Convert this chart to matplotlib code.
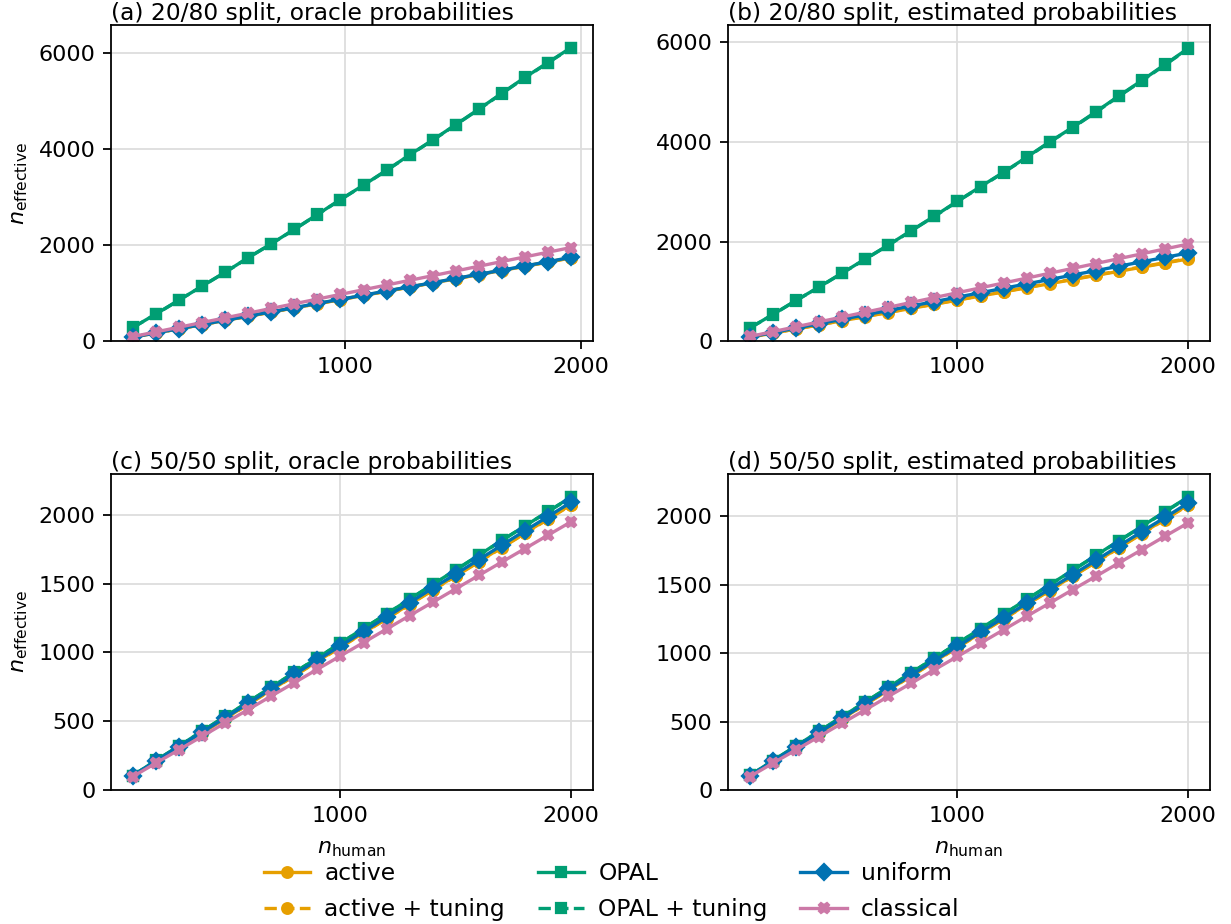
import matplotlib
matplotlib.use("Agg")
import matplotlib.pyplot as plt
from matplotlib.ticker import MultipleLocator

# n_human values
x_a = [100, 198, 296, 394, 492, 589, 687, 785, 883, 981,
       1079, 1177, 1275, 1373, 1471, 1568, 1666, 1764, 1862, 1960]
x_full = [100, 200, 300, 400, 500, 600, 700, 800, 900, 1000,
          1100, 1200, 1300, 1400, 1500, 1600, 1700, 1800, 1900, 2000]

# (a) 20/80 split, oracle probabilities
active_a = [88, 174, 262, 348, 436, 521, 608, 695, 782, 868,
            955, 1041, 1128, 1215, 1302, 1388, 1474, 1561, 1648, 1735]
active_tune_a = [89, 175, 263, 349, 437, 522, 610, 697, 784, 870,
                 957, 1044, 1131, 1218, 1305, 1391, 1478, 1565, 1652, 1740]
opal_a = [290, 570, 860, 1150, 1440, 1740, 2030, 2330, 2640, 2950,
          3250, 3560, 3880, 4190, 4510, 4830, 5160, 5490, 5800, 6110]
opal_tune_a = [288, 568, 858, 1148, 1438, 1737, 2027, 2327, 2636, 2946,
               3246, 3556, 3875, 4185, 4505, 4825, 5154, 5484, 5794, 6104]
uniform_a = [90, 175, 265, 350, 440, 525, 615, 700, 790, 875,
             960, 1050, 1135, 1220, 1310, 1395, 1480, 1570, 1655, 1750]
classical_a = [100, 197, 295, 392, 490, 587, 685, 782, 880, 977,
               1075, 1172, 1270, 1367, 1465, 1562, 1660, 1757, 1855, 1952]

# (b) 20/80 split, estimated probabilities
active_b = [83, 165, 248, 330, 413, 496, 578, 661, 743, 826,
            909, 991, 1074, 1156, 1239, 1322, 1404, 1487, 1569, 1652]
active_tune_b = [84, 167, 250, 333, 416, 499, 582, 665, 748, 831,
                 914, 997, 1080, 1163, 1246, 1329, 1412, 1495, 1578, 1661]
opal_b = [270, 540, 820, 1090, 1370, 1650, 1930, 2220, 2510, 2810,
          3100, 3390, 3690, 4000, 4290, 4600, 4920, 5230, 5550, 5870]
opal_tune_b = [268, 538, 817, 1087, 1366, 1646, 1926, 2215, 2505, 2804,
               3094, 3384, 3683, 3993, 4283, 4592, 4912, 5222, 5541, 5861]
uniform_b = [89, 177, 266, 354, 443, 532, 620, 709, 797, 886,
             975, 1063, 1152, 1240, 1329, 1418, 1506, 1595, 1683, 1772]
classical_b = [98, 195, 293, 390, 488, 585, 683, 780, 878, 975,
               1073, 1170, 1268, 1365, 1463, 1560, 1658, 1755, 1853, 1950]

# (c) 50/50 split, oracle probabilities
active_c = [103, 208, 312, 416, 520, 624, 728, 832, 936, 1040,
            1143, 1247, 1350, 1455, 1558, 1660, 1765, 1868, 1972, 2075]
active_tune_c = [103, 207, 311, 415, 519, 622, 726, 830, 934, 1037,
                 1141, 1245, 1348, 1452, 1555, 1658, 1762, 1865, 1969, 2072]
opal_c = [105, 215, 320, 428, 535, 640, 748, 855, 960, 1068,
          1175, 1280, 1388, 1495, 1600, 1708, 1815, 1920, 2025, 2130]
opal_tune_c = [105, 214, 320, 427, 534, 640, 747, 854, 960, 1067,
               1174, 1280, 1387, 1494, 1600, 1707, 1814, 1920, 2024, 2128]
uniform_c = [104, 210, 315, 420, 525, 630, 735, 840, 945, 1048,
             1152, 1258, 1362, 1468, 1570, 1675, 1780, 1885, 1988, 2092]
classical_c = [98, 196, 293, 390, 488, 585, 683, 780, 878, 975,
               1072, 1170, 1268, 1365, 1463, 1560, 1658, 1755, 1853, 1950]

# (d) 50/50 split, estimated probabilities
active_d = [103, 208, 312, 416, 521, 625, 729, 834, 938, 1042,
            1146, 1250, 1354, 1458, 1562, 1665, 1770, 1874, 1978, 2082]
active_tune_d = [103, 207, 311, 415, 520, 624, 728, 832, 936, 1040,
                 1144, 1248, 1352, 1456, 1560, 1663, 1767, 1871, 1975, 2079]
opal_d = [106, 215, 321, 429, 536, 642, 750, 857, 963, 1071,
          1178, 1284, 1392, 1499, 1605, 1713, 1820, 1926, 2033, 2140]
opal_tune_d = [106, 214, 321, 428, 535, 642, 749, 856, 963, 1070,
               1177, 1283, 1390, 1497, 1604, 1711, 1818, 1924, 2031, 2137]
uniform_d = [104, 210, 315, 420, 525, 630, 735, 840, 945, 1048,
             1153, 1258, 1363, 1468, 1572, 1677, 1782, 1887, 1990, 2095]
classical_d = [98, 196, 293, 390, 488, 585, 683, 780, 878, 975,
               1072, 1170, 1268, 1365, 1463, 1560, 1658, 1755, 1853, 1950]

titles = ["(a) 20/80 split, oracle probabilities",
          "(b) 20/80 split, estimated probabilities",
          "(c) 50/50 split, oracle probabilities",
          "(d) 50/50 split, estimated probabilities"]
xs = [x_a, x_full, x_full, x_full]
panels = [
    [active_a, active_tune_a, opal_a, opal_tune_a, uniform_a, classical_a],
    [active_b, active_tune_b, opal_b, opal_tune_b, uniform_b, classical_b],
    [active_c, active_tune_c, opal_c, opal_tune_c, uniform_c, classical_c],
    [active_d, active_tune_d, opal_d, opal_tune_d, uniform_d, classical_d],
]
ylims = [6580, 6340, 2300, 2310]
ysteps = [2000, 2000, 500, 500]

labels = ["active", "active + tuning", "OPAL", "OPAL + tuning", "uniform", "classical"]
colors = ["#E69F00", "#E69F00", "#009E73", "#009E73", "#0072B2", "#CC79A7"]
styles = ["-", "--", "-", "--", "-", "-"]
markers = ["o", "o", "s", "s", "D", "X"]

fig, axes = plt.subplots(2, 2, figsize=(1231 / 160, 924 / 160), dpi=160)
fig.subplots_adjust(left=111 / 1231, right=1210 / 1231, top=1 - 25 / 924,
                    bottom=1 - 790 / 924, hspace=0.418, wspace=0.28)

for i, ax in enumerate(axes.flat):
    for series, lab, col, ls, mk in zip(panels[i], labels, colors, styles, markers):
        ax.plot(xs[i], series, color=col, linestyle=ls, marker=mk, label=lab,
                linewidth=1.5, markersize=4.8)
    ax.set_ylim(0, ylims[i])
    ax.xaxis.set_major_locator(MultipleLocator(1000))
    ax.yaxis.set_major_locator(MultipleLocator(ysteps[i]))
    ax.grid(True, color="#dddddd", linewidth=0.8)
    ax.set_axisbelow(True)
    ax.set_title(titles[i], loc="left", fontsize=10.5, pad=2)
    if i % 2 == 0:
        ax.set_ylabel(r"$n_{\mathrm{effective}}$")
    if i >= 2:
        ax.set_xlabel(r"$n_{\mathrm{human}}$", labelpad=6)

handles, labs = axes[0, 0].get_legend_handles_labels()
fig.legend(handles, labs, loc="upper center", bbox_to_anchor=(0.497, 1 - 853 / 924),
           ncol=3, frameon=False, borderaxespad=0, handlelength=2.0,
           handletextpad=0.6, columnspacing=1.4, labelspacing=0.55,
           fontsize=10.5)

fig.savefig("out.png", dpi=160)
